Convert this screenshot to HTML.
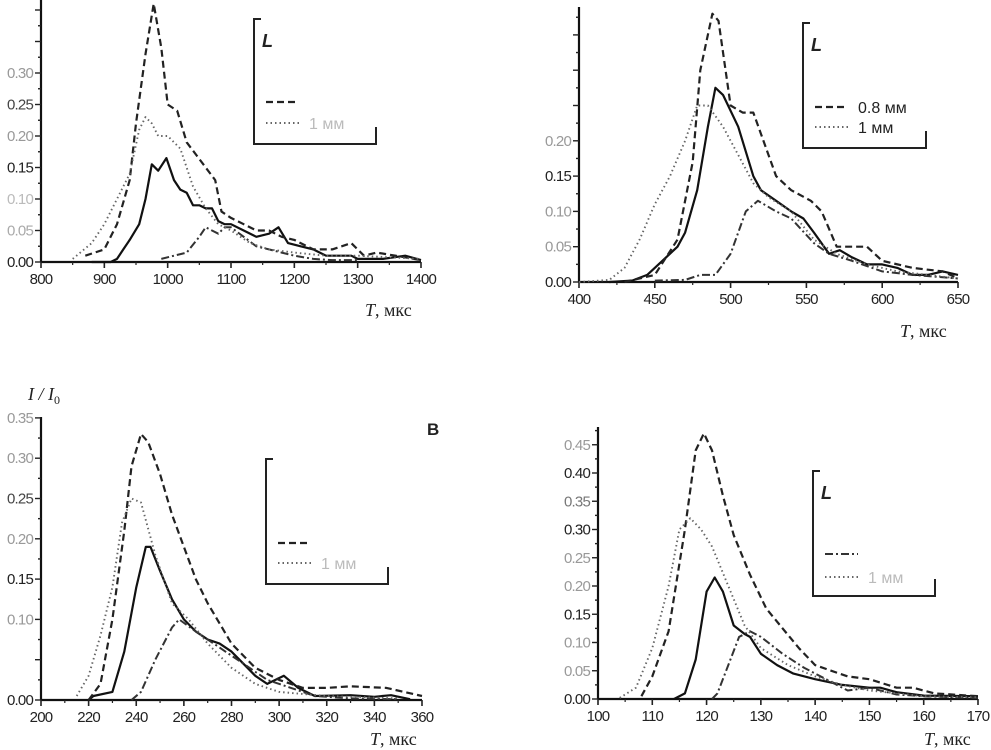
<!DOCTYPE html>
<html><head><meta charset="utf-8"><style>
html,body{margin:0;padding:0;background:#fff;width:991px;height:750px;overflow:hidden}
svg{display:block}
text{font-family:"Liberation Sans",sans-serif}
.ser{font-family:"Liberation Serif",serif}
</style></head><body>
<svg id="chart" width="991" height="750" viewBox="0 0 991 750"></svg>
<script>
// Panel A data
const aSolidT=[880,910,920,930,940,955,965,975,985,998,1010,1020,1030,1040,1050,1060,1070,1080,1090,1100,1120,1140,1160,1175,1190,1210,1230,1250,1270,1290,1300,1340,1375,1400];
const aSolidV=[0,0,0.005,0.02,0.035,0.06,0.1,0.155,0.145,0.165,0.13,0.115,0.11,0.09,0.09,0.085,0.085,0.065,0.06,0.06,0.05,0.04,0.045,0.055,0.03,0.025,0.02,0.01,0.01,0.01,0.005,0.005,0.01,0.003];
const aDashT=[870,900,920,940,950,965,978,990,1000,1015,1030,1045,1060,1075,1085,1100,1120,1140,1160,1180,1200,1230,1260,1290,1310,1330,1360,1400];
const aDashV=[0.01,0.02,0.06,0.13,0.22,0.33,0.41,0.34,0.25,0.24,0.19,0.17,0.15,0.13,0.08,0.07,0.06,0.05,0.05,0.04,0.035,0.02,0.02,0.03,0.01,0.015,0.01,0.003];
const aDdT=[990,1010,1030,1050,1060,1070,1080,1090,1100,1120,1140,1160,1180,1200,1230,1260,1300];
const aDdV=[0.005,0.01,0.015,0.04,0.055,0.05,0.045,0.055,0.055,0.04,0.025,0.02,0.015,0.01,0.005,0.003,0.003];
const aDotT=[850,880,900,920,940,955,965,975,985,1000,1020,1040,1060,1080,1100,1130,1160,1200,1250,1300,1400];
const aDotV=[0.005,0.03,0.06,0.1,0.14,0.21,0.23,0.22,0.2,0.2,0.18,0.12,0.085,0.06,0.05,0.03,0.02,0.015,0.01,0.01,0.005];
// Panel B data
const bSolidT=[420,435,445,455,465,470,478,485,490,495,505,515,520,530,540,548,555,565,572,580,590,600,610,620,630,640,650];
const bSolidV=[0,0.002,0.01,0.03,0.05,0.07,0.13,0.22,0.275,0.265,0.22,0.15,0.13,0.115,0.1,0.09,0.07,0.04,0.045,0.035,0.025,0.025,0.02,0.01,0.01,0.015,0.01];
const bDashT=[430,450,465,475,480,488,492,500,508,515,520,530,540,553,560,570,580,590,600,620,640,650];
const bDashV=[0,0.01,0.06,0.17,0.3,0.38,0.37,0.25,0.24,0.24,0.21,0.15,0.13,0.115,0.1,0.05,0.05,0.05,0.03,0.02,0.015,0.005];
const bDdT=[450,470,480,490,500,510,518,530,540,555,565,580,600,620,650];
const bDdV=[0.002,0.003,0.01,0.01,0.04,0.1,0.115,0.1,0.09,0.055,0.04,0.03,0.015,0.01,0.005];
const bDotT=[400,420,430,440,450,460,470,478,485,495,505,515,525,540,555,570,590,610,630,650];
const bDotV=[0,0.003,0.02,0.06,0.11,0.15,0.2,0.25,0.25,0.22,0.18,0.14,0.12,0.1,0.06,0.04,0.025,0.015,0.01,0.005];
// Panel C data
const cSolidT=[220,222,230,235,240,244,246,250,255,260,265,270,275,280,285,290,295,302,308,315,330,340,347,355];
const cSolidV=[0,0.005,0.01,0.06,0.14,0.19,0.19,0.16,0.125,0.1,0.085,0.075,0.07,0.06,0.045,0.03,0.02,0.03,0.015,0.005,0.006,0.004,0.006,0.001];
const cDashT=[220,225,230,235,238,242,245,250,255,260,265,270,275,280,290,300,310,320,330,345,360];
const cDashV=[0,0.02,0.1,0.21,0.29,0.33,0.32,0.28,0.23,0.19,0.15,0.12,0.095,0.07,0.04,0.025,0.015,0.015,0.017,0.015,0.005];
const cDdT=[238,242,248,255,258,265,275,285,295,305,315,330,350];
const cDdV=[0,0.01,0.05,0.09,0.1,0.085,0.065,0.045,0.025,0.015,0.005,0.002,0.001];
const cDotT=[215,220,225,230,234,238,242,248,255,262,270,280,290,300,320,350];
const cDotV=[0.005,0.03,0.08,0.14,0.22,0.25,0.245,0.18,0.12,0.1,0.07,0.04,0.02,0.01,0.005,0.002];
// Panel D data
const dSolidT=[114,116,118,120,121.5,123,125,127,128,130,133,136,140,145,150,152,155,160,170];
const dSolidV=[0,0.01,0.07,0.19,0.215,0.19,0.13,0.115,0.11,0.08,0.06,0.045,0.035,0.025,0.02,0.02,0.012,0.006,0.005];
const dDashT=[108,110,113,116,118,119.5,121,123,125,128,131,134,137,140,143,146,150,155,158,162,170];
const dDashV=[0.005,0.04,0.12,0.3,0.44,0.47,0.44,0.36,0.29,0.22,0.16,0.125,0.09,0.06,0.05,0.04,0.035,0.02,0.02,0.01,0.005];
const dDdT=[121,122,124,126,128,130,134,138,142,146,150,152,155,160,170];
const dDdV=[0,0.01,0.06,0.11,0.12,0.11,0.08,0.055,0.035,0.015,0.02,0.015,0.008,0.005,0.002];
const dDotT=[104,107,110,113,115,117,119,121,124,127,130,135,140,145,150,160,170];
const dDotV=[0.002,0.02,0.09,0.2,0.3,0.32,0.3,0.27,0.2,0.13,0.09,0.06,0.04,0.025,0.015,0.005,0.003];

const xTicksA=[800,900,1000,1100,1200,1300,1400];
const xTicksB=[400,450,500,550,600,650];
const xTicksC=[200,220,240,260,280,300,320,340,360];
const xTicksD=[100,110,120,130,140,150,160,170];

const NS="http://www.w3.org/2000/svg";
const svg=document.getElementById('chart');
function mk(tag,attrs,parent){const e=document.createElementNS(NS,tag);for(const k in attrs)e.setAttribute(k,attrs[k]);(parent||svg).appendChild(e);return e;}

const styles={
 solid:{stroke:'#111',w:2.2,dash:''},
 dash:{stroke:'#222',w:2.2,dash:'7 4'},
 dd:{stroke:'#333',w:2,dash:'8 3 2 3'},
 dot:{stroke:'#666',w:1.9,dash:'1.5 3'}
};

function panel(p){
 const g=mk('g',{});
 
 
 const sx=t=>p.x0+(t-p.t0)/(p.t1-p.t0)*(p.x1-p.x0);
 const sy=v=>p.y0-v*p.ppu;
 const ax=mk('line',{x1:p.x0,y1:p.y0,x2:p.x1,y2:p.y0,stroke:'#111','stroke-width':2.2},g);
 
 const ay=mk('line',{x1:p.x0,y1:p.y0,x2:p.x0,y2:p.ytop,stroke:'#111','stroke-width':2.2},g);
 
 p.xt.forEach((t,i)=>{
  mk('line',{x1:sx(t),y1:p.y0,x2:sx(t),y2:p.y0+6,stroke:'#222','stroke-width':1.6},g);
  if(i<p.xt.length-1){const m=(t+p.xt[i+1])/2;mk('line',{x1:sx(m),y1:p.y0,x2:sx(m),y2:p.y0+3,stroke:'#222','stroke-width':1.2},g);}
  const tx=mk('text',{x:sx(t),y:p.y0+22,'font-size':15,'text-anchor':'middle',fill:'#222','letter-spacing':'-0.8'},g);
  tx.textContent=String(t);
  
 });
 for(let v=0;v<=p.vmax+1e-9;v+=0.025){
  const major=Math.abs(v/0.05-Math.round(v/0.05))<1e-6;
  mk('line',{x1:p.x0,y1:sy(v),x2:p.x0-(major?6:3),y2:sy(v),stroke:'#222','stroke-width':1.4},g);
 }
 p.yl.forEach(l=>{
  const tx=mk('text',{x:p.x0-8,y:sy(l.v)+5,'font-size':15,'text-anchor':'end',fill:l.c,'letter-spacing':'-0.8'},g);
  tx.textContent=l.v.toFixed(2);
  
 });
 p.series.forEach(s=>{
  const st=styles[s.k];
  const d=s.t.map((t,i)=>(i?'L':'M')+sx(t).toFixed(1)+' '+sy(s.v[i]).toFixed(1)).join(' ');
  const path=mk('path',{d:d,fill:'none',stroke:st.stroke,'stroke-width':st.w,'stroke-dasharray':st.dash,'stroke-linejoin':'round'},g);
  
  
 });
 const xt=mk('text',{x:p.xtx,y:p.xty,'font-size':18,fill:'#222',class:'ser'},g);
 xt.innerHTML='<tspan font-style="italic">T</tspan>,  мкс';
 
 const L=p.leg;
 const lg=mk('g',{},g);
 
 mk('path',{d:`M${L.x+7} ${L.y} L${L.x} ${L.y} L${L.x} ${L.y+L.h} L${L.x+L.w} ${L.y+L.h} L${L.x+L.w} ${L.y+L.h-17}`,fill:'none',stroke:'#222','stroke-width':2},lg);
 if(L.L){const t=mk('text',{x:L.x+8,y:L.y+28,'font-size':18,'font-weight':'bold','font-style':'italic',fill:'#222'},lg);t.textContent='L';}
 L.items.forEach(it=>{
  const st=styles[it.k];
  mk('line',{x1:L.x+12,y1:it.y,x2:L.x+45,y2:it.y,stroke:it.c||st.stroke,'stroke-width':st.w,'stroke-dasharray':st.dash},lg);
  if(it.txt){const t=mk('text',{x:L.x+55,y:it.y+6,'font-size':16,fill:it.tc||'#222'},lg);t.textContent=it.txt;}
 });
 return g;
}

panel({name:'panel-a',x0:41,x1:421,t0:800,t1:1400,y0:262,ppu:630,ytop:0,vmax:0.41,xt:xTicksA,
 yl:[{v:0,c:'#222'},{v:0.05,c:'#aaa'},{v:0.1,c:'#bbb'},{v:0.15,c:'#222'},{v:0.2,c:'#999'},{v:0.25,c:'#444'},{v:0.3,c:'#999'}],
 series:[{k:'solid',t:aSolidT,v:aSolidV},{k:'dash',t:aDashT,v:aDashV},{k:'dd',t:aDdT,v:aDdV},{k:'dot',t:aDotT,v:aDotV}],
 xtx:365,xty:316,leg:{x:254,y:19,w:122,h:125,L:true,items:[{k:'dash',y:102},{k:'dot',y:123,txt:'1 мм',tc:'#bbb'}]}});
panel({name:'panel-b',x0:579,x1:958,t0:400,t1:650,y0:282,ppu:706,ytop:7,vmax:0.38,xt:xTicksB,
 yl:[{v:0,c:'#222'},{v:0.05,c:'#999'},{v:0.1,c:'#999'},{v:0.15,c:'#222'},{v:0.2,c:'#999'}],
 series:[{k:'solid',t:bSolidT,v:bSolidV},{k:'dash',t:bDashT,v:bDashV},{k:'dd',t:bDdT,v:bDdV},{k:'dot',t:bDotT,v:bDotV}],
 xtx:900,xty:337,leg:{x:803,y:23,w:123,h:125,L:true,items:[{k:'dash',y:107,txt:'0.8 мм'},{k:'dot',y:127,txt:'1 мм'}]}});
panel({name:'panel-c',x0:41,x1:422,t0:200,t1:360,y0:700,ppu:806,ytop:417,vmax:0.35,xt:xTicksC,
 yl:[{v:0,c:'#222'},{v:0.1,c:'#999'},{v:0.15,c:'#222'},{v:0.2,c:'#999'},{v:0.25,c:'#444'},{v:0.3,c:'#999'},{v:0.35,c:'#999'}],
 series:[{k:'solid',t:cSolidT,v:cSolidV},{k:'dash',t:cDashT,v:cDashV},{k:'dd',t:cDdT,v:cDdV},{k:'dot',t:cDotT,v:cDotV}],
 xtx:370,xty:745,leg:{x:266,y:459,w:122,h:125,L:false,items:[{k:'dash',y:543},{k:'dot',y:563,txt:'1 мм',tc:'#bbb'}]}});
panel({name:'panel-d',x0:598,x1:978,t0:100,t1:170,y0:699,ppu:565,ytop:427,vmax:0.475,xt:xTicksD,
 yl:[{v:0,c:'#222'},{v:0.05,c:'#999'},{v:0.1,c:'#999'},{v:0.15,c:'#222'},{v:0.2,c:'#999'},{v:0.25,c:'#999'},{v:0.3,c:'#222'},{v:0.35,c:'#777'},{v:0.4,c:'#222'},{v:0.45,c:'#999'}],
 series:[{k:'solid',t:dSolidT,v:dSolidV},{k:'dash',t:dDashT,v:dDashV},{k:'dd',t:dDdT,v:dDdV},{k:'dot',t:dDotT,v:dDotV}],
 xtx:924,xty:745,leg:{x:813,y:471,w:122,h:125,L:true,items:[{k:'dd',y:554},{k:'dot',y:577,txt:'1 мм',tc:'#bbb'}]}});

const yl=mk('text',{x:28,y:400,'font-size':18,fill:'#222',class:'ser','font-style':'italic'});
yl.innerHTML='I / I<tspan font-size="12" dy="4" font-style="normal">0</tspan>';

const pb=mk('text',{x:427,y:435,'font-size':17,'font-weight':'bold',fill:'#222'});
pb.textContent='B';

</script>
</body></html>
